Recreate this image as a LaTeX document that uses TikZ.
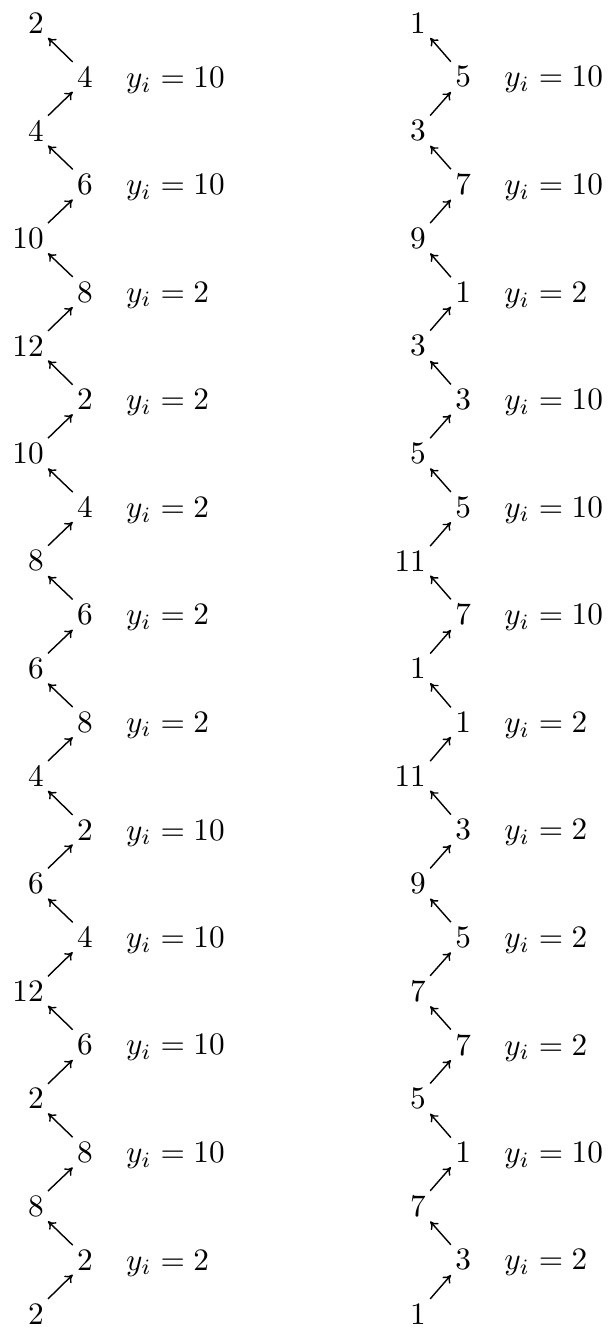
\documentclass[tikz,border=0pt]{standalone}
\usetikzlibrary{arrows.meta, positioning}

\begin{document}
\begin{tikzpicture}[num/.style={inner sep=1.2pt},
  lnum/.style={inner sep=1.2pt, anchor=east},
  lbl/.style={inner sep=2pt},
  arr/.style={-{To[length=2.4pt,width=3.2pt]}, line width=0.45pt}]
  \useasboundingbox (0,0) rectangle (6.8625,-14.93);

  \node[lnum] (la0) at (0.54,-0.26) {2};
  \node[lnum] (la1) at (0.54,-1.47) {4};
  \node[lnum] (la2) at (0.54,-2.68) {10};
  \node[lnum] (la3) at (0.54,-3.89) {12};
  \node[lnum] (la4) at (0.54,-5.10) {10};
  \node[lnum] (la5) at (0.54,-6.31) {8};
  \node[lnum] (la6) at (0.54,-7.52) {6};
  \node[lnum] (la7) at (0.54,-8.73) {4};
  \node[lnum] (la8) at (0.54,-9.94) {6};
  \node[lnum] (la9) at (0.54,-11.15) {12};
  \node[lnum] (la10) at (0.54,-12.36) {2};
  \node[lnum] (la11) at (0.54,-13.57) {8};
  \node[lnum] (la12) at (0.54,-14.78) {2};

  \node[num] (ra0) at (0.955,-0.865) {4};
  \node[num] (ra1) at (0.955,-2.075) {6};
  \node[num] (ra2) at (0.955,-3.285) {8};
  \node[num] (ra3) at (0.955,-4.495) {2};
  \node[num] (ra4) at (0.955,-5.705) {4};
  \node[num] (ra5) at (0.955,-6.915) {6};
  \node[num] (ra6) at (0.955,-8.125) {8};
  \node[num] (ra7) at (0.955,-9.335) {2};
  \node[num] (ra8) at (0.955,-10.545) {4};
  \node[num] (ra9) at (0.955,-11.755) {6};
  \node[num] (ra10) at (0.955,-12.965) {8};
  \node[num] (ra11) at (0.955,-14.175) {2};

  \node[lbl, base right=0.25cm of ra0] (ya0) {$y_i = 10$};
  \node[lbl, base right=0.25cm of ra1] (ya1) {$y_i = 10$};
  \node[lbl, base right=0.25cm of ra2] (ya2) {$y_i = 2$};
  \node[lbl, base right=0.25cm of ra3] (ya3) {$y_i = 2$};
  \node[lbl, base right=0.25cm of ra4] (ya4) {$y_i = 2$};
  \node[lbl, base right=0.25cm of ra5] (ya5) {$y_i = 2$};
  \node[lbl, base right=0.25cm of ra6] (ya6) {$y_i = 2$};
  \node[lbl, base right=0.25cm of ra7] (ya7) {$y_i = 10$};
  \node[lbl, base right=0.25cm of ra8] (ya8) {$y_i = 10$};
  \node[lbl, base right=0.25cm of ra9] (ya9) {$y_i = 10$};
  \node[lbl, base right=0.25cm of ra10] (ya10) {$y_i = 10$};
  \node[lbl, base right=0.25cm of ra11] (ya11) {$y_i = 2$};

  \node[lnum] (lb0) at (4.84,-0.26) {1};
  \node[lnum] (lb1) at (4.84,-1.47) {3};
  \node[lnum] (lb2) at (4.84,-2.68) {9};
  \node[lnum] (lb3) at (4.84,-3.89) {3};
  \node[lnum] (lb4) at (4.84,-5.10) {5};
  \node[lnum] (lb5) at (4.84,-6.31) {11};
  \node[lnum] (lb6) at (4.84,-7.52) {1};
  \node[lnum] (lb7) at (4.84,-8.73) {11};
  \node[lnum] (lb8) at (4.84,-9.94) {9};
  \node[lnum] (lb9) at (4.84,-11.15) {7};
  \node[lnum] (lb10) at (4.84,-12.36) {5};
  \node[lnum] (lb11) at (4.84,-13.57) {7};
  \node[lnum] (lb12) at (4.84,-14.78) {1};

  \node[num] (rb0) at (5.21,-0.865) {5};
  \node[num] (rb1) at (5.21,-2.075) {7};
  \node[num] (rb2) at (5.21,-3.285) {1};
  \node[num] (rb3) at (5.21,-4.495) {3};
  \node[num] (rb4) at (5.21,-5.705) {5};
  \node[num] (rb5) at (5.21,-6.915) {7};
  \node[num] (rb6) at (5.21,-8.125) {1};
  \node[num] (rb7) at (5.21,-9.335) {3};
  \node[num] (rb8) at (5.21,-10.545) {5};
  \node[num] (rb9) at (5.21,-11.755) {7};
  \node[num] (rb10) at (5.21,-12.965) {1};
  \node[num] (rb11) at (5.21,-14.175) {3};

  \node[lbl, base right=0.25cm of rb0] (yb0) {$y_i = 10$};
  \node[lbl, base right=0.25cm of rb1] (yb1) {$y_i = 10$};
  \node[lbl, base right=0.25cm of rb2] (yb2) {$y_i = 2$};
  \node[lbl, base right=0.25cm of rb3] (yb3) {$y_i = 10$};
  \node[lbl, base right=0.25cm of rb4] (yb4) {$y_i = 10$};
  \node[lbl, base right=0.25cm of rb5] (yb5) {$y_i = 10$};
  \node[lbl, base right=0.25cm of rb6] (yb6) {$y_i = 2$};
  \node[lbl, base right=0.25cm of rb7] (yb7) {$y_i = 2$};
  \node[lbl, base right=0.25cm of rb8] (yb8) {$y_i = 2$};
  \node[lbl, base right=0.25cm of rb9] (yb9) {$y_i = 2$};
  \node[lbl, base right=0.25cm of rb10] (yb10) {$y_i = 10$};
  \node[lbl, base right=0.25cm of rb11] (yb11) {$y_i = 2$};

  \draw[arr] (ra0.north west) -- (la0.south east);
  \draw[arr] (la1.north east) -- (ra0.south west);
  \draw[arr] (ra1.north west) -- (la1.south east);
  \draw[arr] (la2.north east) -- (ra1.south west);
  \draw[arr] (ra2.north west) -- (la2.south east);
  \draw[arr] (la3.north east) -- (ra2.south west);
  \draw[arr] (ra3.north west) -- (la3.south east);
  \draw[arr] (la4.north east) -- (ra3.south west);
  \draw[arr] (ra4.north west) -- (la4.south east);
  \draw[arr] (la5.north east) -- (ra4.south west);
  \draw[arr] (ra5.north west) -- (la5.south east);
  \draw[arr] (la6.north east) -- (ra5.south west);
  \draw[arr] (ra6.north west) -- (la6.south east);
  \draw[arr] (la7.north east) -- (ra6.south west);
  \draw[arr] (ra7.north west) -- (la7.south east);
  \draw[arr] (la8.north east) -- (ra7.south west);
  \draw[arr] (ra8.north west) -- (la8.south east);
  \draw[arr] (la9.north east) -- (ra8.south west);
  \draw[arr] (ra9.north west) -- (la9.south east);
  \draw[arr] (la10.north east) -- (ra9.south west);
  \draw[arr] (ra10.north west) -- (la10.south east);
  \draw[arr] (la11.north east) -- (ra10.south west);
  \draw[arr] (ra11.north west) -- (la11.south east);
  \draw[arr] (la12.north east) -- (ra11.south west);

  \draw[arr] (rb0.north west) -- (lb0.south east);
  \draw[arr] (lb1.north east) -- (rb0.south west);
  \draw[arr] (rb1.north west) -- (lb1.south east);
  \draw[arr] (lb2.north east) -- (rb1.south west);
  \draw[arr] (rb2.north west) -- (lb2.south east);
  \draw[arr] (lb3.north east) -- (rb2.south west);
  \draw[arr] (rb3.north west) -- (lb3.south east);
  \draw[arr] (lb4.north east) -- (rb3.south west);
  \draw[arr] (rb4.north west) -- (lb4.south east);
  \draw[arr] (lb5.north east) -- (rb4.south west);
  \draw[arr] (rb5.north west) -- (lb5.south east);
  \draw[arr] (lb6.north east) -- (rb5.south west);
  \draw[arr] (rb6.north west) -- (lb6.south east);
  \draw[arr] (lb7.north east) -- (rb6.south west);
  \draw[arr] (rb7.north west) -- (lb7.south east);
  \draw[arr] (lb8.north east) -- (rb7.south west);
  \draw[arr] (rb8.north west) -- (lb8.south east);
  \draw[arr] (lb9.north east) -- (rb8.south west);
  \draw[arr] (rb9.north west) -- (lb9.south east);
  \draw[arr] (lb10.north east) -- (rb9.south west);
  \draw[arr] (rb10.north west) -- (lb10.south east);
  \draw[arr] (lb11.north east) -- (rb10.south west);
  \draw[arr] (rb11.north west) -- (lb11.south east);
  \draw[arr] (lb12.north east) -- (rb11.south west);
\end{tikzpicture}
\end{document}
